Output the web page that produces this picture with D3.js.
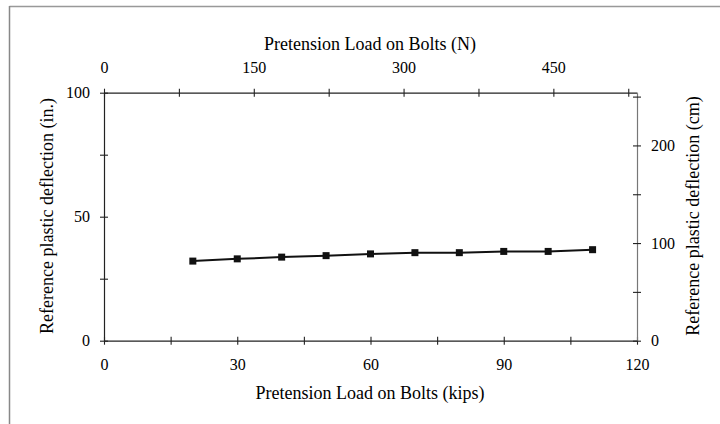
<!DOCTYPE html>
<html><head><meta charset="utf-8">
<script src="https://cdn.jsdelivr.net/npm/d3@7"></script>
<style>body{margin:0;background:#fff}svg{display:block}text{font-family:"Liberation Serif","Times New Roman",serif;fill:#000}</style>
</head><body><svg id="c" width="720" height="424"></svg>
<script>
const loadKips = [20, 30, 40, 50, 60, 70, 80, 90, 100, 110];
const deflectionIn = [32.1, 33.0, 33.7, 34.3, 35.0, 35.5, 35.5, 36.0, 36.0, 36.7];
const bottomTicks = [0, 30, 60, 90, 120];
const topTicks = [0, 150, 300, 450];
const leftTicks = [0, 50, 100];
const rightTicks = [0, 100, 200];

const svg = d3.select("#c");
const L = 104, R = 637, T = 92.7, B = 340.7;
const x = d3.scaleLinear().domain([0, 120]).range([L, R]);
const xN = d3.scaleLinear().domain([0, 120 * 4.448]).range([L, R]);
const y = d3.scaleLinear().domain([0, 100]).range([B, T]);
const yCm = d3.scaleLinear().domain([0, 254]).range([B, T]);

// outer frame lines
svg.append("line").attr("x1", 9.5).attr("x2", 720).attr("y1", 6.5).attr("y2", 6.5).attr("stroke", "#999").attr("stroke-width", 1.5);
svg.append("line").attr("x1", 9.5).attr("x2", 9.5).attr("y1", 6).attr("y2", 424).attr("stroke", "#888").attr("stroke-width", 1.5);

function cross(g, horiz, s) {
  g.select(".domain").attr("stroke", "#222").attr("stroke-width", 1.2);
  g.selectAll(".tick line").attr("stroke", "#222").attr("stroke-width", 1.1);
  if (horiz) g.selectAll(".tick line").attr("y1", -s).attr("y2", s);
  else g.selectAll(".tick line").attr("x1", -s).attr("x2", s);
  g.selectAll("text").style("font-size", "16px").style("font-family", '"Liberation Serif",serif').attr("fill", "#000");
}
function fmtSel(vals) { return d => vals.includes(d) ? d3.format("d")(d) : ""; }

// bottom axis
const gb = svg.append("g").attr("transform", `translate(0,${B})`)
  .call(d3.axisBottom(x).tickValues(d3.range(0, 121, 15)).tickFormat(fmtSel(bottomTicks)).tickSizeOuter(0).tickPadding(12));
cross(gb, true, 4);
// top axis
const gt = svg.append("g").attr("transform", `translate(0,${T})`)
  .call(d3.axisTop(xN).tickValues(d3.range(0, 534, 75)).tickFormat(fmtSel(topTicks)).tickSizeOuter(0).tickPadding(14));
cross(gt, true, 4);
// left axis
const gl = svg.append("g").attr("transform", `translate(${L},0)`)
  .call(d3.axisLeft(y).tickValues(d3.range(0, 101, 25)).tickFormat(fmtSel(leftTicks)).tickSizeOuter(0).tickPadding(8));
cross(gl, false, 4);
// right axis
const gr = svg.append("g").attr("transform", `translate(${R},0)`)
  .call(d3.axisRight(yCm).tickValues(d3.range(0, 251, 50)).tickFormat(fmtSel(rightTicks)).tickSizeOuter(0).tickPadding(8));
cross(gr, false, 4);
gr.select(".domain").attr("stroke", "#777");

// titles
svg.append("text").attr("x", 370).attr("y", 50).attr("text-anchor", "middle").style("font-size", "18px").text("Pretension Load on Bolts (N)");
svg.append("text").attr("x", 370).attr("y", 399).attr("text-anchor", "middle").style("font-size", "18px").text("Pretension Load on Bolts (kips)");
svg.append("text").attr("transform", "translate(53,216) rotate(-90)").attr("text-anchor", "middle").style("font-size", "18px").text("Reference plastic deflection (in.)");
svg.append("text").attr("transform", "translate(699,216) rotate(-90)").attr("text-anchor", "middle").style("font-size", "18px").text("Reference plastic deflection (cm)");

// data
const pts = loadKips.map((k, i) => [k, deflectionIn[i]]);
svg.append("path").datum(pts)
  .attr("d", d3.line().x(d => x(d[0])).y(d => y(d[1])))
  .attr("fill", "none").attr("stroke", "#111").attr("stroke-width", 2);
svg.selectAll("rect.pt").data(pts).join("rect").attr("class", "pt")
  .attr("x", d => x(d[0]) - 3.5).attr("y", d => y(d[1]) - 3.5)
  .attr("width", 7).attr("height", 7).attr("fill", "#111");
</script></body></html>
